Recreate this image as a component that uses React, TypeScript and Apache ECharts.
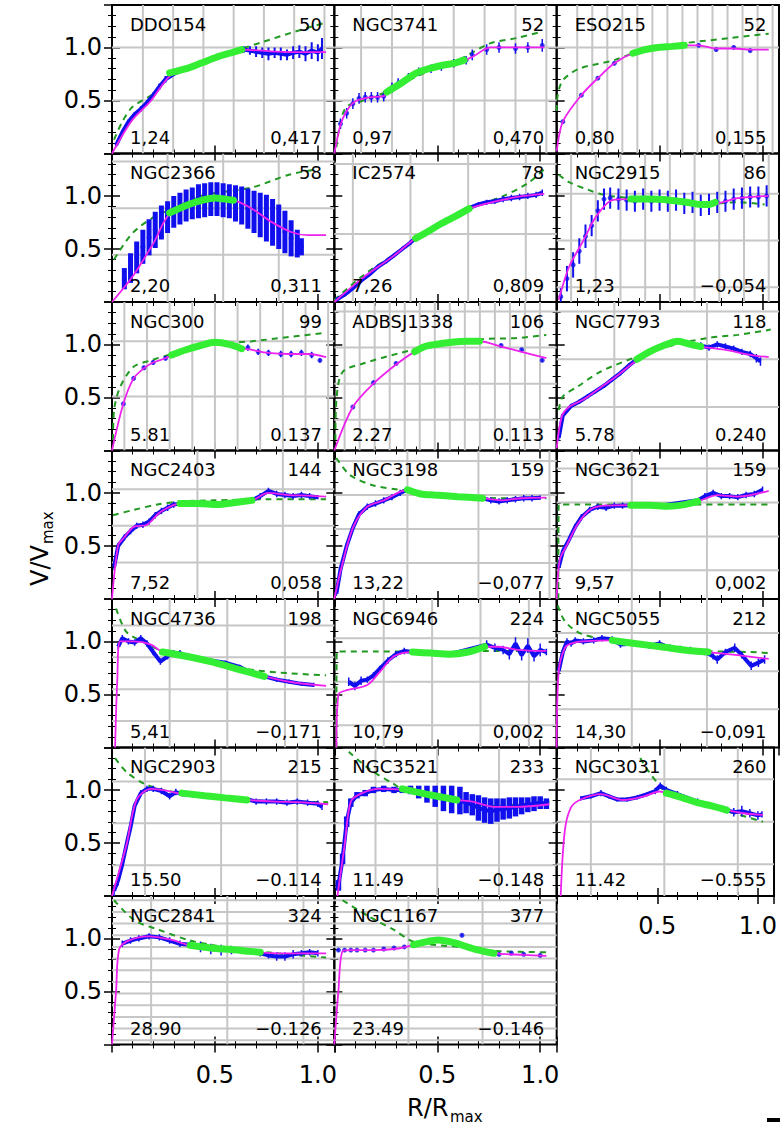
import React, { useEffect, useRef } from "react";
import * as echarts from "echarts";

// ---------- panel labels ----------
const names = ["DDO154", "NGC3741", "ESO215", "NGC2366", "IC2574", "NGC2915", "NGC300", "ADBSJ1338", "NGC7793", "NGC2403", "NGC3198", "NGC3621", "NGC4736", "NGC6946", "NGC5055", "NGC2903", "NGC3521", "NGC3031", "NGC2841", "NGC1167"];
const vmaxLabels = ["50", "52", "52", "58", "78", "86", "99", "106", "118", "144", "159", "159", "198", "224", "212", "215", "233", "260", "324", "377"];
const leftValues = ["1,24", "0,97", "0,80", "2,20", "7,26", "1,23", "5.81", "2.27", "5.78", "7,52", "13,22", "9,57", "5,41", "10,79", "14,30", "15.50", "11.49", "11.42", "28.90", "23.49"];
const rightValues = ["0,417", "0,470", "0,155", "0,311", "0,809", "\u22120,054", "0.137", "0.113", "0.240", "0,058", "\u22120,077", "0,002", "\u22120,171", "0,002", "\u22120,091", "\u22120.114", "\u22120.148", "\u22120.555", "\u22120.126", "\u22120.146"];
const xTickLabels = ["0.5", "1.0"];
const yTickLabels = ["0.5", "1.0"];

// ---------- curves: [R/Rmax, V/Vmax] ; observations: [R/Rmax, V/Vmax, error] ----------
const ddo154Fit = [[0, 0], [0.05, 0.17], [0.1, 0.32], [0.19, 0.5], [0.28, 0.73], [0.36, 0.8], [0.43, 0.85], [0.51, 0.91], [0.63, 0.98], [0.8, 0.96], [0.95, 0.955], [1.04, 0.955]];
const ddo154Green = [[0.28, 0.76], [0.36, 0.8], [0.43, 0.85], [0.51, 0.91], [0.58, 0.95], [0.63, 0.98]];
const ddo154Dash = [[0.01, 0.13], [0.05, 0.3], [0.1, 0.44], [0.19, 0.55], [0.28, 0.72], [0.43, 0.86], [0.6, 0.97], [0.73, 1.05], [0.89, 1.15], [1.03, 1.23]];
const ddo154Obs = [[0.02, 0.08, 0.02], [0.05, 0.2, 0.02], [0.08, 0.3, 0.02], [0.11, 0.37, 0.02], [0.14, 0.42, 0.025], [0.17, 0.48, 0.025], [0.2, 0.55, 0.025], [0.23, 0.63, 0.03], [0.26, 0.7, 0.03], [0.3, 0.75, 0.02], [0.4, 0.83, 0.02], [0.5, 0.9, 0.02], [0.6, 0.96, 0.02], [0.64, 0.98, 0.03], [0.67, 0.97, 0.04], [0.7, 0.96, 0.05], [0.73, 0.95, 0.05], [0.76, 0.94, 0.06], [0.79, 0.95, 0.05], [0.82, 0.94, 0.06], [0.85, 0.93, 0.05], [0.88, 0.95, 0.06], [0.91, 0.96, 0.06], [0.94, 0.94, 0.07], [0.97, 0.97, 0.08], [1.0, 0.95, 0.08], [1.02, 0.99, 0.1]];

const ngc3741Fit = [[0, 0], [0.03, 0.27], [0.06, 0.4], [0.1, 0.49], [0.17, 0.53], [0.24, 0.54], [0.255, 0.58], [0.33, 0.68], [0.4, 0.77], [0.52, 0.83], [0.63, 0.88], [0.67, 0.91], [0.76, 1.0], [0.88, 1.0], [1.02, 1.0]];
const ngc3741Green = [[0.255, 0.58], [0.33, 0.67], [0.4, 0.76], [0.46, 0.8], [0.52, 0.83], [0.58, 0.85], [0.63, 0.88]];
const ngc3741Dash = [[0.01, 0.06], [0.03, 0.3], [0.06, 0.44], [0.14, 0.5], [0.24, 0.57], [0.33, 0.66], [0.45, 0.77], [0.6, 0.88], [0.76, 1.04], [0.89, 1.09], [1.01, 1.15]];
const ngc3741Obs = [[0.03, 0.28, 0.05], [0.06, 0.38, 0.05], [0.09, 0.47, 0.05], [0.12, 0.52, 0.05], [0.15, 0.53, 0.05], [0.18, 0.53, 0.05], [0.21, 0.53, 0.05], [0.24, 0.54, 0.05], [0.28, 0.62, 0.05], [0.31, 0.66, 0.05], [0.36, 0.72, 0.04], [0.41, 0.77, 0.04], [0.47, 0.8, 0.04], [0.52, 0.82, 0.04], [0.58, 0.85, 0.04], [0.64, 0.88, 0.04], [0.67, 0.93, 0.05], [0.74, 0.98, 0.05], [0.8, 1.0, 0.05], [0.88, 0.99, 0.05], [0.94, 1.0, 0.05], [1.01, 1.02, 0.06]];

const eso215Fit = [[0, 0.02], [0.03, 0.3], [0.12, 0.55], [0.2, 0.71], [0.28, 0.85], [0.37, 0.945], [0.49, 1.0], [0.62, 1.02], [0.69, 1.02], [0.775, 0.99], [0.86, 0.99], [0.94, 0.98], [1.03, 0.98]];
const eso215Green = [[0.37, 0.945], [0.43, 0.98], [0.49, 1.0], [0.56, 1.01], [0.62, 1.02]];
const eso215Dash = [[0, 0.4], [0.005, 0.55], [0.03, 0.69], [0.11, 0.8], [0.28, 0.88], [0.37, 0.945], [0.5, 1.0], [0.62, 1.04], [0.85, 1.09], [1.03, 1.13]];
const eso215Obs = [[0.03, 0.3, 0.015], [0.12, 0.55, 0.015], [0.2, 0.71, 0.015], [0.28, 0.85, 0.015], [0.69, 1.02, 0.015], [0.775, 0.98, 0.015], [0.86, 1.0, 0.015], [0.94, 0.97, 0.015]];

const ngc2366Fit = [[0, 0], [0.1, 0.24], [0.2, 0.55], [0.28, 0.83], [0.4, 0.93], [0.5, 0.98], [0.59, 0.96], [0.68, 0.88], [0.77, 0.76], [0.87, 0.66], [0.95, 0.63], [1.04, 0.63]];
const ngc2366Green = [[0.28, 0.84], [0.36, 0.91], [0.44, 0.96], [0.5, 0.98], [0.55, 0.97], [0.59, 0.96]];
const ngc2366Dash = [[0.01, 0.4], [0.1, 0.65], [0.22, 0.82], [0.3, 0.88], [0.43, 1.0], [0.68, 1.08], [0.86, 1.2], [0.99, 1.25]];
const ngc2366Obs = [[0.06, 0.22, 0.1], [0.09, 0.32, 0.14], [0.12, 0.42, 0.15], [0.15, 0.52, 0.16], [0.18, 0.61, 0.17], [0.21, 0.68, 0.17], [0.24, 0.75, 0.16], [0.27, 0.8, 0.15], [0.3, 0.85, 0.15], [0.33, 0.88, 0.15], [0.36, 0.91, 0.15], [0.39, 0.93, 0.15], [0.42, 0.95, 0.16], [0.45, 0.96, 0.16], [0.48, 0.97, 0.16], [0.51, 0.97, 0.16], [0.54, 0.96, 0.16], [0.57, 0.95, 0.16], [0.6, 0.93, 0.17], [0.63, 0.91, 0.18], [0.66, 0.88, 0.19], [0.69, 0.85, 0.2], [0.72, 0.82, 0.21], [0.75, 0.79, 0.22], [0.78, 0.75, 0.22], [0.81, 0.71, 0.21], [0.84, 0.66, 0.2], [0.87, 0.6, 0.17], [0.9, 0.55, 0.13], [0.92, 0.52, 0.08]];

const ic2574Fit = [[0, 0], [0.14, 0.23], [0.285, 0.43], [0.395, 0.6], [0.52, 0.74], [0.655, 0.88], [0.81, 0.96], [0.92, 1.0], [1.02, 1.02]];
const ic2574Green = [[0.395, 0.6], [0.46, 0.67], [0.52, 0.74], [0.59, 0.81], [0.655, 0.88]];
const ic2574Dash = [[0, 0.02], [0.14, 0.25], [0.285, 0.44], [0.45, 0.66], [0.655, 0.88], [0.81, 0.99], [0.94, 1.12], [1.03, 1.27]];
const ic2574Obs = [[0.01, 0.02, 0.02], [0.05, 0.07, 0.02], [0.09, 0.13, 0.02], [0.13, 0.2, 0.02], [0.17, 0.26, 0.02], [0.21, 0.33, 0.02], [0.25, 0.38, 0.02], [0.29, 0.44, 0.02], [0.33, 0.5, 0.02], [0.37, 0.56, 0.02], [0.4, 0.61, 0.02], [0.5, 0.72, 0.02], [0.6, 0.82, 0.02], [0.66, 0.89, 0.02], [0.7, 0.92, 0.02], [0.74, 0.94, 0.025], [0.78, 0.95, 0.025], [0.82, 0.97, 0.03], [0.86, 0.98, 0.03], [0.9, 0.99, 0.03], [0.94, 1.0, 0.03], [0.98, 1.01, 0.03], [1.01, 1.03, 0.03]];

const ngc2915Fit = [[0.01, 0.02], [0.06, 0.33], [0.13, 0.58], [0.19, 0.8], [0.27, 0.96], [0.36, 0.97], [0.505, 0.97], [0.67, 0.93], [0.77, 0.93], [0.88, 0.98], [1.03, 1.0]];
const ngc2915Green = [[0.36, 0.97], [0.45, 0.97], [0.55, 0.96], [0.63, 0.94], [0.7, 0.92], [0.74, 0.92], [0.77, 0.94]];
const ngc2915Dash = [[0.01, 1.2], [0.06, 1.13], [0.15, 1.06], [0.23, 1.01], [0.36, 0.98], [0.55, 0.96], [0.77, 0.93], [0.88, 0.94], [1.01, 0.92]];
const ngc2915Obs = [[0.02, 0.05, 0.08], [0.05, 0.22, 0.12], [0.08, 0.35, 0.12], [0.11, 0.48, 0.12], [0.14, 0.62, 0.11], [0.17, 0.72, 0.1], [0.2, 0.86, 0.1], [0.23, 0.97, 0.1], [0.26, 0.98, 0.1], [0.3, 0.97, 0.1], [0.34, 0.96, 0.1], [0.38, 0.95, 0.1], [0.42, 0.97, 0.1], [0.46, 0.95, 0.1], [0.5, 0.96, 0.1], [0.54, 0.95, 0.1], [0.58, 0.96, 0.1], [0.62, 0.93, 0.1], [0.66, 0.94, 0.1], [0.7, 0.91, 0.1], [0.74, 0.92, 0.1], [0.78, 0.94, 0.1], [0.82, 0.95, 0.1], [0.86, 0.97, 0.1], [0.9, 0.98, 0.1], [0.94, 0.99, 0.1], [0.98, 0.99, 0.1], [1.02, 1.0, 0.1]];

const ngc300Fit = [[0, 0], [0.055, 0.44], [0.105, 0.68], [0.155, 0.775], [0.2, 0.83], [0.26, 0.87], [0.29, 0.9], [0.4, 0.98], [0.5, 1.02], [0.57, 0.99], [0.63, 0.96], [0.66, 0.955], [0.76, 0.92], [0.86, 0.91], [0.955, 0.91], [1.04, 0.88]];
const ngc300Green = [[0.29, 0.9], [0.36, 0.95], [0.43, 0.99], [0.5, 1.02], [0.57, 1.0], [0.63, 0.96]];
const ngc300Dash = [[0.005, 0.1], [0.01, 0.38], [0.04, 0.6], [0.105, 0.79], [0.19, 0.85], [0.29, 0.91], [0.45, 0.99], [0.68, 1.03], [0.86, 1.07], [1.04, 1.11]];
const ngc300Obs = [[0.055, 0.44, 0.02], [0.105, 0.68, 0.02], [0.155, 0.78, 0.02], [0.2, 0.83, 0.02], [0.26, 0.87, 0.02], [0.66, 0.97, 0.03], [0.71, 0.93, 0.03], [0.76, 0.92, 0.03], [0.82, 0.91, 0.03], [0.87, 0.91, 0.03], [0.92, 0.92, 0.03], [0.97, 0.9, 0.03], [1.01, 0.85, 0.02]];

const adbsFit = [[0, 0], [0.09, 0.41], [0.19, 0.63], [0.3, 0.81], [0.39, 0.93], [0.485, 1.0], [0.6, 1.02], [0.705, 1.03], [0.81, 0.98], [0.91, 0.93], [1.03, 0.87]];
const adbsGreen = [[0.39, 0.93], [0.44, 0.98], [0.49, 1.0], [0.57, 1.02], [0.64, 1.03], [0.705, 1.03]];
const adbsDash = [[0.005, 0.1], [0.01, 0.47], [0.04, 0.74], [0.14, 0.82], [0.32, 0.92], [0.5, 1.0], [0.71, 1.05], [0.89, 1.06], [1.03, 1.09]];
const adbsObs = [[0.09, 0.41, 0.015], [0.19, 0.64, 0.015], [0.3, 0.82, 0.015], [0.81, 0.99, 0.015], [0.91, 0.95, 0.015], [1.01, 0.85, 0.015]];

const ngc7793Fit = [[0, 0.02], [0.025, 0.32], [0.06, 0.41], [0.13, 0.48], [0.21, 0.59], [0.29, 0.7], [0.39, 0.85], [0.5, 0.97], [0.59, 1.02], [0.7, 0.98], [0.815, 0.95], [0.945, 0.9], [1.03, 0.88]];
const ngc7793Green = [[0.39, 0.86], [0.45, 0.93], [0.52, 0.99], [0.59, 1.03], [0.65, 1.0], [0.7, 0.98]];
const ngc7793Dash = [[0.01, 0.38], [0.03, 0.51], [0.1, 0.6], [0.21, 0.74], [0.37, 0.87], [0.54, 0.98], [0.73, 1.06], [0.88, 1.09], [1.04, 1.14]];
const ngc7793Obs = [[0.01, 0.12, 0.03], [0.03, 0.33, 0.02], [0.07, 0.42, 0.02], [0.11, 0.46, 0.02], [0.15, 0.51, 0.02], [0.19, 0.56, 0.02], [0.23, 0.61, 0.02], [0.27, 0.67, 0.02], [0.31, 0.73, 0.02], [0.35, 0.8, 0.02], [0.39, 0.86, 0.02], [0.45, 0.93, 0.02], [0.52, 0.99, 0.02], [0.59, 1.03, 0.02], [0.65, 1.0, 0.02], [0.7, 0.99, 0.03], [0.74, 0.97, 0.03], [0.78, 1.0, 0.03], [0.82, 0.98, 0.03], [0.86, 0.96, 0.03], [0.9, 0.93, 0.03], [0.94, 0.91, 0.03], [0.97, 0.87, 0.04], [0.99, 0.84, 0.04]];

const ngc2403Fit = [[0, 0], [0.03, 0.51], [0.055, 0.57], [0.105, 0.68], [0.17, 0.7], [0.235, 0.82], [0.33, 0.9], [0.45, 0.9], [0.51, 0.89], [0.6, 0.91], [0.68, 0.93], [0.76, 1.0], [0.86, 0.98], [0.955, 0.975], [1.04, 0.965]];
const ngc2403Green = [[0.33, 0.9], [0.42, 0.9], [0.51, 0.89], [0.6, 0.91], [0.68, 0.93]];
const ngc2403Dash = [[0.005, 0.79], [0.105, 0.84], [0.22, 0.89], [0.33, 0.92], [0.5, 0.93], [0.76, 0.94], [1.04, 0.94]];
const ngc2403Obs = [[0.01, 0.3, 0.03], [0.03, 0.5, 0.03], [0.06, 0.58, 0.03], [0.09, 0.64, 0.03], [0.12, 0.69, 0.03], [0.15, 0.7, 0.03], [0.18, 0.73, 0.03], [0.21, 0.79, 0.03], [0.24, 0.83, 0.03], [0.27, 0.86, 0.03], [0.3, 0.89, 0.03], [0.33, 0.9, 0.02], [0.45, 0.9, 0.02], [0.55, 0.89, 0.02], [0.68, 0.93, 0.02], [0.72, 0.97, 0.03], [0.76, 1.02, 0.03], [0.8, 0.99, 0.03], [0.84, 0.98, 0.03], [0.88, 0.97, 0.03], [0.92, 0.98, 0.03], [0.96, 0.97, 0.03], [1.0, 0.96, 0.02]];

const ngc3198Fit = [[0, 0], [0.03, 0.26], [0.09, 0.67], [0.16, 0.87], [0.24, 0.93], [0.355, 1.03], [0.485, 0.98], [0.6, 0.96], [0.72, 0.95], [0.81, 0.93], [0.91, 0.95], [1.03, 0.955]];
const ngc3198Green = [[0.355, 1.03], [0.42, 0.99], [0.485, 0.98], [0.6, 0.965], [0.72, 0.95]];
const ngc3198Dash = [[0.01, 1.33], [0.075, 1.17], [0.19, 1.07], [0.32, 1.03], [0.5, 0.98], [0.81, 0.95], [1.03, 0.95]];
const ngc3198Obs = [[0.01, 0.05, 0.02], [0.03, 0.28, 0.03], [0.06, 0.5, 0.03], [0.09, 0.67, 0.03], [0.12, 0.8, 0.03], [0.16, 0.87, 0.03], [0.2, 0.9, 0.03], [0.24, 0.93, 0.03], [0.28, 0.96, 0.03], [0.32, 1.0, 0.03], [0.355, 1.03, 0.02], [0.45, 0.98, 0.02], [0.6, 0.96, 0.02], [0.72, 0.95, 0.02], [0.76, 0.93, 0.03], [0.8, 0.92, 0.03], [0.84, 0.93, 0.03], [0.88, 0.94, 0.03], [0.92, 0.95, 0.03], [0.96, 0.95, 0.03], [1.0, 0.955, 0.02]];

const ngc3621Fit = [[0, 0], [0.015, 0.37], [0.05, 0.51], [0.1, 0.7], [0.16, 0.84], [0.23, 0.88], [0.36, 0.885], [0.54, 0.88], [0.685, 0.92], [0.78, 0.98], [0.88, 0.965], [1.03, 1.02]];
const ngc3621Green = [[0.36, 0.885], [0.45, 0.885], [0.54, 0.875], [0.62, 0.89], [0.685, 0.92]];
const ngc3621Dash = [[0.008, 0.0], [0.01, 0.89], [0.1, 0.89], [0.5, 0.89], [1.03, 0.89]];
const ngc3621Obs = [[0.01, 0.3, 0.03], [0.03, 0.45, 0.03], [0.06, 0.56, 0.03], [0.09, 0.68, 0.03], [0.12, 0.77, 0.03], [0.16, 0.84, 0.03], [0.2, 0.87, 0.03], [0.24, 0.86, 0.03], [0.28, 0.88, 0.03], [0.32, 0.88, 0.03], [0.36, 0.885, 0.02], [0.5, 0.88, 0.02], [0.685, 0.93, 0.02], [0.72, 0.97, 0.03], [0.76, 1.0, 0.03], [0.8, 0.97, 0.03], [0.84, 0.97, 0.03], [0.88, 0.96, 0.03], [0.92, 0.98, 0.03], [0.96, 0.99, 0.03], [1.0, 1.03, 0.03]];

const ngc4736Fit = [[0.015, 0], [0.026, 0.65], [0.04, 1.0], [0.105, 1.0], [0.19, 0.97], [0.245, 0.9], [0.36, 0.86], [0.48, 0.81], [0.61, 0.74], [0.74, 0.67], [0.86, 0.62], [1.04, 0.58]];
const ngc4736Green = [[0.245, 0.9], [0.36, 0.86], [0.48, 0.81], [0.61, 0.74], [0.74, 0.67]];
const ngc4736Dash = [[0.02, 1.31], [0.07, 1.09], [0.15, 1.0], [0.245, 0.91], [0.48, 0.81], [0.69, 0.73], [0.86, 0.7], [1.04, 0.68]];
const ngc4736Obs = [[0.03, 0.95, 0.03], [0.05, 1.03, 0.03], [0.08, 1.0, 0.03], [0.11, 0.99, 0.03], [0.14, 1.03, 0.03], [0.17, 0.98, 0.03], [0.2, 0.9, 0.03], [0.235, 0.81, 0.03], [0.27, 0.86, 0.03], [0.3, 0.89, 0.03], [0.33, 0.89, 0.03], [0.37, 0.86, 0.03], [0.42, 0.84, 0.02], [0.48, 0.82, 0.02], [0.55, 0.8, 0.02], [0.62, 0.76, 0.02], [0.68, 0.7, 0.02], [0.74, 0.67, 0.02], [0.8, 0.64, 0.02], [0.86, 0.62, 0.02], [0.92, 0.6, 0.02], [0.98, 0.59, 0.02]];

const ngc6946Fit = [[0.01, 0], [0.02, 0.5], [0.06, 0.54], [0.16, 0.59], [0.22, 0.71], [0.29, 0.86], [0.38, 0.9], [0.56, 0.88], [0.65, 0.9], [0.73, 0.95], [0.8, 0.95], [0.89, 0.92], [1.03, 0.91]];
const ngc6946Green = [[0.38, 0.9], [0.47, 0.89], [0.56, 0.88], [0.65, 0.9], [0.73, 0.95]];
const ngc6946Dash = [[0.01, 0.0], [0.012, 0.905], [0.2, 0.905], [0.38, 0.905], [0.56, 0.9], [0.75, 0.91], [1.03, 0.91]];
const ngc6946Obs = [[0.07, 0.62, 0.04], [0.1, 0.58, 0.04], [0.13, 0.63, 0.04], [0.16, 0.64, 0.03], [0.19, 0.68, 0.03], [0.22, 0.74, 0.03], [0.26, 0.82, 0.03], [0.3, 0.88, 0.03], [0.34, 0.91, 0.03], [0.38, 0.9, 0.02], [0.56, 0.88, 0.02], [0.74, 0.97, 0.04], [0.78, 0.94, 0.04], [0.82, 0.92, 0.04], [0.85, 0.88, 0.05], [0.88, 0.98, 0.06], [0.91, 0.87, 0.05], [0.94, 0.96, 0.07], [0.97, 0.86, 0.05], [1.0, 0.92, 0.06], [1.03, 0.9, 0.03]];

const ngc5055Fit = [[0, 0], [0.01, 0.72], [0.04, 0.94], [0.07, 0.98], [0.13, 1.0], [0.27, 1.01], [0.38, 0.98], [0.505, 0.95], [0.62, 0.92], [0.735, 0.9], [0.88, 0.87], [1.03, 0.835]];
const ngc5055Green = [[0.27, 1.01], [0.38, 0.98], [0.505, 0.95], [0.62, 0.92], [0.735, 0.9]];
const ngc5055Dash = [[0.005, 1.34], [0.04, 1.19], [0.11, 1.08], [0.21, 1.03], [0.38, 0.99], [0.55, 0.95], [0.735, 0.91], [0.945, 0.9], [1.03, 0.89]];
const ngc5055Obs = [[0.01, 0.72, 0.03], [0.03, 0.9, 0.03], [0.05, 1.0, 0.03], [0.07, 0.98, 0.03], [0.09, 1.01, 0.03], [0.13, 1.0, 0.03], [0.18, 1.01, 0.03], [0.22, 1.03, 0.03], [0.27, 1.02, 0.03], [0.31, 0.97, 0.03], [0.38, 0.98, 0.03], [0.45, 0.96, 0.03], [0.5, 0.98, 0.03], [0.55, 0.94, 0.03], [0.6, 0.93, 0.03], [0.65, 0.92, 0.03], [0.72, 0.9, 0.03], [0.76, 0.86, 0.03], [0.78, 0.83, 0.04], [0.82, 0.9, 0.03], [0.865, 0.94, 0.04], [0.9, 0.87, 0.03], [0.945, 0.77, 0.04], [0.98, 0.8, 0.04], [1.01, 0.83, 0.04]];

const ngc2903Fit = [[0, 0], [0.07, 0.48], [0.12, 0.91], [0.19, 1.01], [0.26, 0.995], [0.34, 0.96], [0.45, 0.94], [0.55, 0.925], [0.655, 0.905], [0.795, 0.89], [0.9, 0.885], [1.05, 0.865]];
const ngc2903Green = [[0.34, 0.97], [0.45, 0.945], [0.55, 0.925], [0.655, 0.905]];
const ngc2903Dash = [[0.015, 1.3], [0.07, 1.17], [0.155, 1.06], [0.25, 1.0], [0.34, 0.97], [0.655, 0.905], [1.05, 0.885]];
const ngc2903Obs = [[0.01, 0.05, 0.05], [0.03, 0.15, 0.05], [0.05, 0.3, 0.05], [0.07, 0.48, 0.04], [0.09, 0.65, 0.04], [0.11, 0.85, 0.03], [0.14, 0.97, 0.03], [0.17, 1.01, 0.03], [0.2, 1.01, 0.03], [0.24, 0.99, 0.03], [0.28, 0.94, 0.03], [0.31, 0.98, 0.03], [0.34, 0.96, 0.02], [0.5, 0.93, 0.02], [0.66, 0.91, 0.02], [0.7, 0.89, 0.03], [0.75, 0.89, 0.03], [0.8, 0.89, 0.03], [0.85, 0.88, 0.03], [0.9, 0.89, 0.03], [0.95, 0.88, 0.03], [1.0, 0.87, 0.03], [1.02, 0.84, 0.03]];

const ngc3521Fit = [[0.015, 0], [0.05, 0.48], [0.08, 0.89], [0.135, 0.97], [0.22, 1.01], [0.33, 1.0], [0.46, 0.95], [0.595, 0.905], [0.67, 0.89], [0.775, 0.84], [0.885, 0.84], [1.045, 0.865]];
const ngc3521Green = [[0.33, 1.01], [0.4, 0.98], [0.46, 0.955], [0.53, 0.93], [0.595, 0.905]];
const ngc3521Dash = [[0.07, 1.36], [0.175, 1.19], [0.285, 1.06], [0.33, 1.01], [0.595, 0.905], [0.775, 0.85], [1.045, 0.89]];
const ngc3521Obs = [[0.02, 0.1, 0.05], [0.04, 0.35, 0.05], [0.06, 0.7, 0.05], [0.08, 0.88, 0.04], [0.11, 0.95, 0.03], [0.15, 0.97, 0.03], [0.19, 1.0, 0.03], [0.24, 1.01, 0.03], [0.29, 1.0, 0.03], [0.33, 1.0, 0.03], [0.37, 1.0, 0.04], [0.41, 0.98, 0.06], [0.45, 0.96, 0.08], [0.49, 0.94, 0.1], [0.53, 0.92, 0.12], [0.57, 0.91, 0.13], [0.61, 0.9, 0.13], [0.64, 0.88, 0.1], [0.67, 0.86, 0.1], [0.7, 0.83, 0.12], [0.73, 0.81, 0.12], [0.76, 0.8, 0.12], [0.79, 0.81, 0.11], [0.82, 0.82, 0.1], [0.85, 0.83, 0.1], [0.88, 0.84, 0.09], [0.91, 0.85, 0.08], [0.94, 0.86, 0.07], [0.97, 0.87, 0.07], [1.0, 0.88, 0.06], [1.03, 0.87, 0.05]];

const ngc3031Fit = [[0.02, 0], [0.04, 0.61], [0.07, 0.83], [0.115, 0.905], [0.22, 0.96], [0.33, 0.905], [0.435, 0.94], [0.51, 0.985], [0.545, 0.97], [0.65, 0.91], [0.75, 0.86], [0.845, 0.81], [0.93, 0.78], [1.025, 0.765]];
const ngc3031Green = [[0.545, 0.97], [0.62, 0.93], [0.7, 0.88], [0.77, 0.85], [0.845, 0.81]];
const ngc3031Dash = [[0.415, 1.3], [0.455, 1.18], [0.52, 1.02], [0.545, 0.97], [0.7, 0.88], [0.845, 0.8], [1.025, 0.7]];
const ngc3031Obs = [[0.12, 0.92, 0.02], [0.17, 0.94, 0.02], [0.22, 0.97, 0.03], [0.26, 0.94, 0.02], [0.3, 0.91, 0.02], [0.35, 0.91, 0.02], [0.4, 0.93, 0.02], [0.45, 0.96, 0.02], [0.49, 0.99, 0.03], [0.515, 1.04, 0.03], [0.545, 1.0, 0.03], [0.6, 0.96, 0.03], [0.7, 0.89, 0.03], [0.845, 0.81, 0.03], [0.88, 0.79, 0.04], [0.92, 0.8, 0.05], [0.96, 0.78, 0.04], [1.0, 0.76, 0.04], [1.02, 0.77, 0.03]];

const ngc2841Fit = [[0, 0], [0.02, 0.51], [0.035, 0.9], [0.08, 0.98], [0.18, 1.02], [0.28, 0.99], [0.38, 0.935], [0.48, 0.91], [0.58, 0.89], [0.71, 0.87], [0.82, 0.86], [0.92, 0.86], [1.04, 0.86]];
const ngc2841Green = [[0.38, 0.935], [0.48, 0.91], [0.58, 0.895], [0.66, 0.88], [0.72, 0.87]];
const ngc2841Dash = [[0.01, 1.36], [0.11, 1.17], [0.23, 1.08], [0.38, 0.98], [0.58, 0.91], [0.8, 0.86], [1.04, 0.82]];
const ngc2841Obs = [[0.05, 0.95, 0.03], [0.09, 0.98, 0.03], [0.13, 1.0, 0.03], [0.18, 1.02, 0.03], [0.23, 1.01, 0.03], [0.28, 0.98, 0.03], [0.33, 0.95, 0.03], [0.38, 0.94, 0.03], [0.43, 0.92, 0.05], [0.48, 0.9, 0.05], [0.53, 0.89, 0.05], [0.58, 0.89, 0.04], [0.72, 0.86, 0.03], [0.76, 0.84, 0.03], [0.8, 0.83, 0.04], [0.84, 0.83, 0.04], [0.88, 0.85, 0.04], [0.92, 0.86, 0.03], [0.96, 0.87, 0.03], [1.0, 0.86, 0.03]];

const ngc1167Fit = [[0, 0], [0.02, 0.51], [0.04, 0.88], [0.08, 0.89], [0.19, 0.89], [0.31, 0.905], [0.385, 0.94], [0.45, 0.97], [0.505, 0.985], [0.58, 0.96], [0.68, 0.9], [0.775, 0.86], [0.92, 0.845], [1.03, 0.835]];
const ngc1167Green = [[0.385, 0.94], [0.45, 0.97], [0.505, 0.985], [0.58, 0.96], [0.68, 0.9], [0.775, 0.86]];
const ngc1167Dash = [[0.04, 1.36], [0.165, 1.21], [0.29, 1.08], [0.385, 0.97], [0.6, 0.92], [0.8, 0.88], [1.03, 0.87]];
const ngc1167Obs = [[0.02, 0.89, 0.01], [0.05, 0.89, 0.01], [0.08, 0.89, 0.01], [0.11, 0.89, 0.01], [0.15, 0.89, 0.01], [0.19, 0.89, 0.01], [0.24, 0.9, 0.01], [0.29, 0.91, 0.01], [0.34, 0.92, 0.01], [0.62, 1.03, 0.01], [0.8, 0.85, 0.01], [0.86, 0.86, 0.01], [0.92, 0.85, 0.01], [1.0, 0.84, 0.01]];

const panels = [
  { fit: ddo154Fit, green: ddo154Green, dash: ddo154Dash, obs: ddo154Obs },
  { fit: ngc3741Fit, green: ngc3741Green, dash: ngc3741Dash, obs: ngc3741Obs },
  { fit: eso215Fit, green: eso215Green, dash: eso215Dash, obs: eso215Obs },
  { fit: ngc2366Fit, green: ngc2366Green, dash: ngc2366Dash, obs: ngc2366Obs },
  { fit: ic2574Fit, green: ic2574Green, dash: ic2574Dash, obs: ic2574Obs },
  { fit: ngc2915Fit, green: ngc2915Green, dash: ngc2915Dash, obs: ngc2915Obs },
  { fit: ngc300Fit, green: ngc300Green, dash: ngc300Dash, obs: ngc300Obs },
  { fit: adbsFit, green: adbsGreen, dash: adbsDash, obs: adbsObs },
  { fit: ngc7793Fit, green: ngc7793Green, dash: ngc7793Dash, obs: ngc7793Obs },
  { fit: ngc2403Fit, green: ngc2403Green, dash: ngc2403Dash, obs: ngc2403Obs },
  { fit: ngc3198Fit, green: ngc3198Green, dash: ngc3198Dash, obs: ngc3198Obs },
  { fit: ngc3621Fit, green: ngc3621Green, dash: ngc3621Dash, obs: ngc3621Obs },
  { fit: ngc4736Fit, green: ngc4736Green, dash: ngc4736Dash, obs: ngc4736Obs },
  { fit: ngc6946Fit, green: ngc6946Green, dash: ngc6946Dash, obs: ngc6946Obs },
  { fit: ngc5055Fit, green: ngc5055Green, dash: ngc5055Dash, obs: ngc5055Obs },
  { fit: ngc2903Fit, green: ngc2903Green, dash: ngc2903Dash, obs: ngc2903Obs },
  { fit: ngc3521Fit, green: ngc3521Green, dash: ngc3521Dash, obs: ngc3521Obs },
  { fit: ngc3031Fit, green: ngc3031Green, dash: ngc3031Dash, obs: ngc3031Obs },
  { fit: ngc2841Fit, green: ngc2841Green, dash: ngc2841Dash, obs: ngc2841Obs },
  { fit: ngc1167Fit, green: ngc1167Green, dash: ngc1167Dash, obs: ngc1167Obs },
];

// ---------- style config (not data) ----------
const denseStyle = [true, false, false, false, true, false, false, false, true, true, true, true, true, true, true, true, true, true, true, false];
const errWidth = [2, 1.5, 1.5, 5, 1.5, 2, 1.5, 1.5, 1.5, 1.5, 1.5, 1.5, 1.5, 1.5, 1.5, 1.5, 5.5, 1.5, 1.5, 1.5];
// background grid-line pattern per panel: [vStart, vStep, hStart, hStep]
const bgGrid = [
  [0.15, 0.147, 0.5, 0.5], [0.13, 0.15, 0.5, 0.5], [0.1, 0.073, 1.0, 1.0],
  [0.27, 0.27, 0.445, 0.44], [0.09, 0.28, 0.64, 0.66], [0.07, 0.12, 0.14, 0.44],
  [0.06, 0.11, 0.51, 0.52], [0.05, 0.073, 0.29, 0.34], [0.28, 0.45, 0.41, 0.45],
  [0.415, 0.415, 0.345, 0.345], [0.01, 0.345, 0.02, 0.32], [0.365, 0.365, 0.27, 0.32],
  [0.28, 0.28, 0.25, 0.3], [0.24, 0.235, 0.21, 0.41], [0.365, 0.365, 0.36, 0.36],
  [0.16, 0.37, 0.29, 0.395], [0.2, 0.3, 0.29, 0.395], [0.17, 0.365, 0.3, 0.4],
  [0.19, 0.37, 0.04, 0.11], [0.36, 0.36, 0.04, 0.11],
];

const BLUE = "#1010ee";
const MAGENTA = "#ee22ee";
const GREEN = "#33ee33";
const DGREEN = "#229922";
const FONT = "DejaVu Sans";
const X0 = 112, Y0 = 5, PW = 222.33, PH = 148.5;
const XMAX = 1.08, YMAX = 1.4;

function tickFmt(labels: string[]) {
  return (v: number) => {
    for (const l of labels) if (Math.abs(v - parseFloat(l)) < 1e-6) return l;
    return "";
  };
}

function buildOption() {
  const grid: any[] = [], xAxis: any[] = [], yAxis: any[] = [], series: any[] = [], elements: any[] = [];
  panels.forEach((p, i) => {
    const c = i % 3, r = Math.floor(i / 3);
    const left = X0 + c * PW, top = Y0 + r * PH;
    grid.push({ left, top, width: PW, height: PH, show: true, borderColor: "#000", borderWidth: 2, backgroundColor: "rgba(0,0,0,0)" });
    const tick = { show: true, inside: true, length: 8, lineStyle: { color: "#000", width: 1.5 } };
    const minor = { show: true, splitNumber: 5, length: 4, lineStyle: { color: "#000", width: 1 } };
    const showX = i >= 17, showY = c === 0;
    ["bottom", "top"].forEach((pos, k) => {
      xAxis.push({
        type: "value", gridIndex: i, position: pos, min: 0, max: XMAX, interval: 0.5,
        axisLine: { show: false }, splitLine: { show: false }, axisTick: tick, minorTick: minor,
        axisLabel: { show: showX && k === 0, formatter: tickFmt(xTickLabels), fontSize: 24, fontFamily: FONT, color: "#000", margin: 18 },
      });
    });
    ["left", "right"].forEach((pos, k) => {
      yAxis.push({
        type: "value", gridIndex: i, position: pos, min: 0, max: YMAX, interval: 0.5,
        axisLine: { show: false }, splitLine: { show: false }, axisTick: tick, minorTick: minor,
        axisLabel: { show: showY && k === 0, formatter: tickFmt(yTickLabels), fontSize: 24, fontFamily: FONT, color: "#000", margin: 10 },
      });
    });
    const xi = 2 * i, yi = 2 * i;
    // background grid lines
    const [vs, vd, hs, hd] = bgGrid[i];
    const gl: number[][] = [];
    for (let v = vs; v < XMAX - 0.02; v += vd) if (v > 0.02) gl.push([0, v]);
    for (let h = hs; h < YMAX - 0.02; h += hd) if (h > 0.02) gl.push([1, h]);
    series.push({
      type: "custom", xAxisIndex: xi, yAxisIndex: yi, z: 1, silent: true, clip: true, data: gl,
      renderItem: (params: any, api: any) => {
        const k = api.value(0), v = api.value(1);
        const a = k === 0 ? api.coord([v, 0]) : api.coord([0, v]);
        const b = k === 0 ? api.coord([v, YMAX]) : api.coord([XMAX, v]);
        return { type: "line", shape: { x1: a[0], y1: a[1], x2: b[0], y2: b[1] }, style: { stroke: "#c6c6c6", lineWidth: 2 } };
      },
    });
    // model dashed
    series.push({ type: "line", xAxisIndex: xi, yAxisIndex: yi, z: 2, data: p.dash, smooth: 0.3, symbol: "none", clip: true, lineStyle: { color: DGREEN, width: 2, type: [6, 5] } });
    // observation error bars
    const ew = errWidth[i];
    series.push({
      type: "custom", xAxisIndex: xi, yAxisIndex: yi, z: 3, clip: true, data: p.obs,
      renderItem: (params: any, api: any) => {
        const x = api.value(0), y = api.value(1), e = api.value(2);
        const a = api.coord([x, y - e]), b = api.coord([x, y + e]);
        return { type: "line", shape: { x1: a[0], y1: a[1], x2: b[0], y2: b[1] }, style: { stroke: BLUE, lineWidth: ew } };
      },
    });
    if (denseStyle[i]) {
      series.push({ type: "line", xAxisIndex: xi, yAxisIndex: yi, z: 3, data: p.obs.map((o) => [o[0], o[1]]), symbol: "none", clip: true, lineStyle: { color: BLUE, width: 4 } });
    } else {
      series.push({ type: "scatter", xAxisIndex: xi, yAxisIndex: yi, z: 3, data: p.obs.map((o) => [o[0], o[1]]), symbol: "circle", symbolSize: 5, itemStyle: { color: BLUE } });
    }
    // fitted curve
    series.push({ type: "line", xAxisIndex: xi, yAxisIndex: yi, z: 4, data: p.fit, smooth: 0.3, symbol: "none", clip: true, lineStyle: { color: MAGENTA, width: 1.8 } });
    // fitted range
    series.push({ type: "line", xAxisIndex: xi, yAxisIndex: yi, z: 5, data: p.green, smooth: 0.3, symbol: "none", clip: true, lineStyle: { color: GREEN, width: 7, cap: "round" } });

    const txt = (x: number, y: number, s: string, align: string) => ({
      type: "text", x, y, z: 10, silent: true,
      style: { text: s, fontSize: 18, fontFamily: FONT, fill: "#000", align, textAlign: align, verticalAlign: "middle", textVerticalAlign: "middle" },
    });
    elements.push(txt(left + 18, top + 19, names[i], "left"));
    elements.push(txt(left + PW - 12.5, top + 19, vmaxLabels[i], "right"));
    elements.push(txt(left + 18, top + PH - 16.5, leftValues[i], "left"));
    elements.push(txt(left + PW - 12.5, top + PH - 16.5, rightValues[i], "right"));
  });

  const big = (x: number, y: number, s: string, size: number) => ({
    type: "text", x, y, silent: true,
    style: { text: s, fontSize: size, fontFamily: FONT, fill: "#000", align: "left", textAlign: "left", verticalAlign: "middle", textVerticalAlign: "middle" },
  });
  elements.push(big(407, 1108, "R/R", 24));
  elements.push(big(450, 1117, "max", 15));
  elements.push({
    type: "group", x: 40, y: 548, rotation: Math.PI / 2,
    children: [big(-38, 0, "V/V", 24), big(4, 8, "max", 15)],
  });
  elements.push({ type: "rect", shape: { x: 767, y: 1118, width: 13, height: 4 }, style: { fill: "#000" } });

  return { animation: false, backgroundColor: "#fff", grid, xAxis, yAxis, series, graphic: { elements } };
}

export default function App() {
  const ref = useRef<HTMLDivElement>(null);
  useEffect(() => {
    if (!ref.current) return;
    const chart = echarts.init(ref.current, undefined, { renderer: "svg" });
    chart.setOption(buildOption() as any);
    return () => chart.dispose();
  }, []);
  return <div ref={ref} style={{ position: "fixed", left: 0, top: 0, width: 780, height: 1129 }} />;
}
